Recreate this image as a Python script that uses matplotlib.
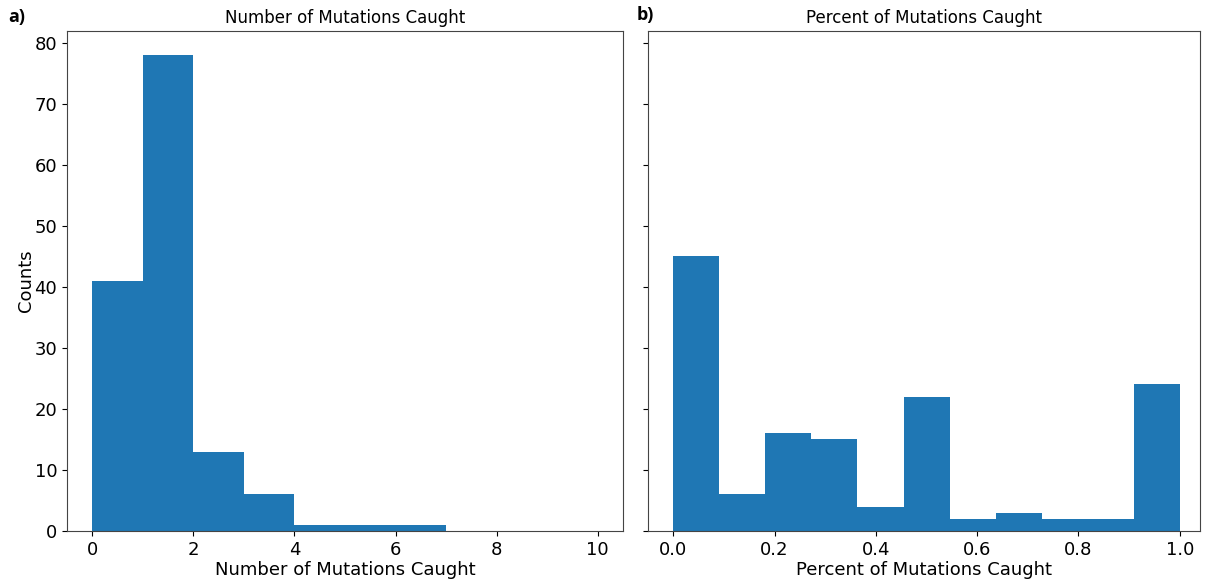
import numpy as np
import matplotlib
matplotlib.use("Agg")
import matplotlib.pyplot as plt

# Histogram of mutations caught per test (counts per bin)
num_bin_edges = [0, 1, 2, 3, 4, 5, 6, 7, 8, 9, 10]
num_counts = [41, 78, 13, 6, 1, 1, 1, 0, 0, 0]

# Histogram of fraction of mutations caught (11 equal bins over 0..1)
pct_bin_edges = list(np.linspace(0.0, 1.0, 12))
pct_counts = [45, 6, 16, 15, 4, 22, 2, 3, 2, 2, 24]

bar_color = "#1f77b4"
tick_size = 13
title_size = 12
label_size = 13

fig = plt.figure(figsize=(12.06, 5.79), dpi=100)
ax1 = fig.add_axes([67 / 1206, 48 / 579, 556 / 1206, 500 / 579])
ax2 = fig.add_axes([648 / 1206, 48 / 579, 552 / 1206, 500 / 579], sharey=ax1)


def draw_hist(ax, edges, counts):
    edges = np.asarray(edges, dtype=float)
    lefts = edges[:-1]
    widths = np.diff(edges)
    ax.bar(lefts, counts, width=widths, align="edge", color=bar_color,
           linewidth=0)


draw_hist(ax1, num_bin_edges, num_counts)
draw_hist(ax2, pct_bin_edges, pct_counts)

ax1.set_xlim(-0.5, 10.5)
ax1.set_xticks([0, 2, 4, 6, 8, 10])
ax2.set_xlim(-0.05, 1.04)
ax2.set_xticks([0.0, 0.2, 0.4, 0.6, 0.8, 1.0])
ax1.set_ylim(0, max(num_counts) * 1.05)
ax1.set_yticks(range(0, 81, 10))

ax1.set_title("Number of Mutations Caught", fontsize=title_size)
ax2.set_title("Percent of Mutations Caught", fontsize=title_size)
ax1.set_xlabel("Number of Mutations Caught", fontsize=label_size, labelpad=1.5)
ax2.set_xlabel("Percent of Mutations Caught", fontsize=label_size, labelpad=1.5)
ax1.set_ylabel("Counts", fontsize=label_size, labelpad=0)

for ax in (ax1, ax2):
    ax.tick_params(labelsize=tick_size)
    for sp in ax.spines.values():
        sp.set_color("#444444")
ax2.tick_params(labelleft=False)

fig.text(8 / 1206, 1 - 17 / 579, "a)", fontsize=13, fontweight="bold",
         family="Open Sans", va="center", ha="left")
fig.text(637 / 1206, 1 - 15 / 579, "b)", fontsize=13, fontweight="bold",
         family="Open Sans", va="center", ha="left")

fig.savefig("out.png", dpi=100)
